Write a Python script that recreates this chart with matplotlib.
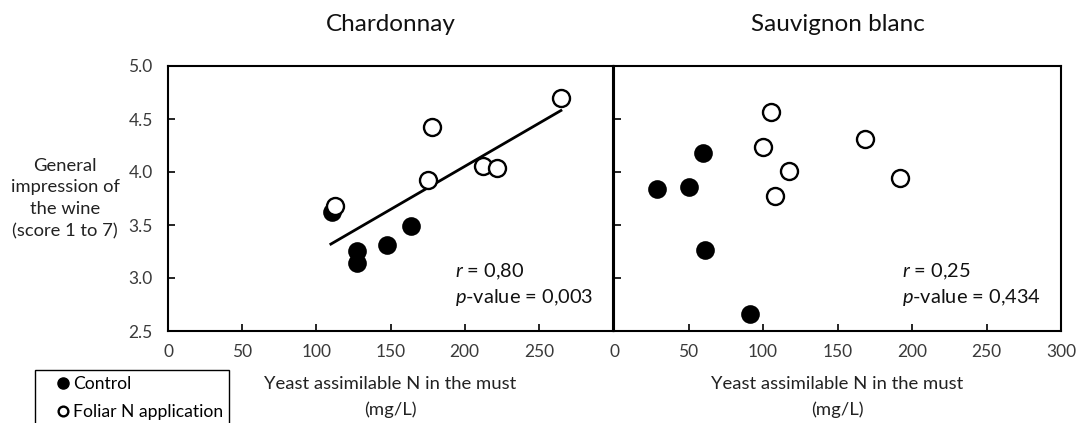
import numpy as np
import matplotlib.pyplot as plt
from matplotlib.lines import Line2D
from matplotlib.patches import Rectangle

plt.rcParams["font.family"] = ["Lato", "DejaVu Sans"]
plt.rcParams["mathtext.fontset"] = "custom"
plt.rcParams["mathtext.it"] = "Lato:italic"
plt.rcParams["mathtext.rm"] = "Lato"

# ---------------- data ----------------
chard_ctrl_x = [110.5, 127.2, 127.2, 147.5, 164.1]
chard_ctrl_y = [3.62, 3.25, 3.14, 3.31, 3.49]
chard_fol_x = [112.3, 178.3, 175.2, 212.1, 221.9, 265.2]
chard_fol_y = [3.68, 4.42, 3.92, 4.06, 4.04, 4.70]
chard_fit_x = [109.8, 264.9]
chard_fit_y = [3.32, 4.58]

sauv_ctrl_x = [29.0, 50.5, 59.4, 61.0, 91.6]
sauv_ctrl_y = [3.84, 3.86, 4.18, 3.26, 2.66]
sauv_fol_x = [105.7, 99.9, 117.5, 108.1, 168.2, 192.1]
sauv_fol_y = [4.57, 4.24, 4.01, 3.77, 4.31, 3.94]

chard_stats = ("0,80", "0,003")
sauv_stats = ("0,25", "0,434")

x_ticks = [0, 50, 100, 150, 200, 250, 300]
y_ticks = [2.5, 3.0, 3.5, 4.0, 4.5, 5.0]

W, H = 1079, 423
fig = plt.figure(figsize=(W / 100, H / 100), dpi=100)

ax1 = fig.add_axes([168 / W, 1 - 331 / H, 445 / W, 265 / H])
ax2 = fig.add_axes([614 / W, 1 - 331 / H, 447 / W, 265 / H])

ms = 150
for ax, cx, cy, fx, fy in [
    (ax1, chard_ctrl_x, chard_ctrl_y, chard_fol_x, chard_fol_y),
    (ax2, sauv_ctrl_x, sauv_ctrl_y, sauv_fol_x, sauv_fol_y),
]:
    ax.scatter(cx, cy, s=ms, c="black", edgecolors="black", linewidths=1.2, zorder=3)
    ax.scatter(fx, fy, s=ms, facecolors="white", edgecolors="black", linewidths=1.7, zorder=4)
    ax.set_xlim(0, 300)
    ax.set_ylim(2.5, 5.0)
    ax.set_xticks(x_ticks)
    ax.set_yticks(y_ticks)
    ax.tick_params(direction="in", length=5, width=1.2, labelsize=12.5,
                   colors="black", labelcolor="#3a3a3a")
    ax.tick_params(axis="x", pad=9)
    ax.tick_params(axis="y", pad=11)
    for sp in ax.spines.values():
        sp.set_linewidth(1.5)
    ax.set_xlabel("Yeast assimilable N in the must\n(mg/L)", fontsize=13.3,
                  color="#222222", labelpad=12, linespacing=1.7)

ax1.plot(chard_fit_x, chard_fit_y, color="black", lw=2, zorder=2)
ax1.set_xticklabels(["0", "50", "100", "150", "200", "250", ""])
ax1.set_yticklabels([f"{v:.1f}" for v in y_ticks])
ax1.set_ylabel("General\nimpression of\nthe wine\n(score 1 to 7)", rotation=0,
               fontsize=13.2, color="#222222", ha="center", va="center",
               linespacing=1.45)
ax1.yaxis.set_label_coords(-0.231, 0.50)
ax2.set_yticklabels([])

ax1.set_title("Chardonnay", fontsize=17.5, pad=25, color="#111111")
ax2.set_title("Sauvignon blanc", fontsize=17.5, pad=25, color="#111111")

for ax, (r, p) in [(ax1, chard_stats), (ax2, sauv_stats)]:
    ax.text(0.645, 0.223, rf"$\it{{r}}$ = {r}", transform=ax.transAxes,
            fontsize=14.4, va="center", ha="left", color="#111111")
    ax.text(0.645, 0.125, rf"$\it{{p}}$-value = {p}", transform=ax.transAxes,
            fontsize=14.4, va="center", ha="left", color="#111111")

# legend: frame drawn separately, it runs off the bottom edge
fig.add_artist(Rectangle((35 / W, -0.05), 194 / W, (1 - 370 / H) + 0.05,
                         transform=fig.transFigure, fill=False,
                         edgecolor="black", lw=1.0))
handles = [
    Line2D([], [], marker="o", ls="none", color="black", markersize=8),
    Line2D([], [], marker="o", ls="none", markerfacecolor="white",
           markeredgecolor="black", markeredgewidth=1.7, markersize=7),
]
fig.legend(handles, ["Control", "Foliar N application"],
           loc="upper left", bbox_to_anchor=(57.5 / W, 1 - 376 / H),
           frameon=False, fontsize=12.6, handlelength=0.6, handletextpad=0.27,
           borderpad=0, labelspacing=0.68, borderaxespad=0)

fig.savefig("out.png", dpi=100)
